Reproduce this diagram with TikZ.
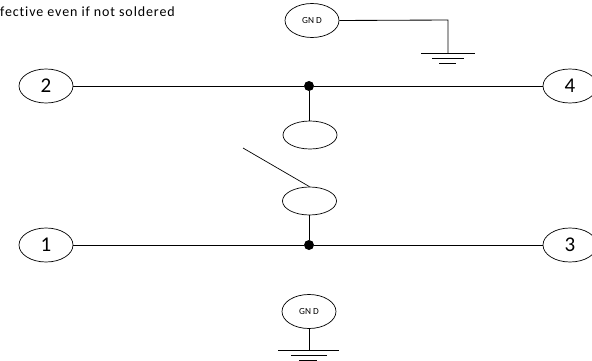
\documentclass[tikz,border=0pt]{standalone}
\usepackage{fontspec}
\setmainfont[Ligatures=CommonOff]{Carlito}
\usetikzlibrary{shapes.geometric}
\tikzset{
  x=1pt,y=-1pt,
  wire/.style={draw=black,line width=0.85pt},
  thin wire/.style={draw=black,line width=0.7pt},
  pin/.style={ellipse,draw=black,line width=0.7pt,fill=white,inner sep=0pt,minimum width=54pt,minimum height=34pt,font=\fontsize{21}{21}\selectfont},
  gndpin/.style={pin,font=\fontsize{9.3}{9.3}\selectfont},
  blank/.style={ellipse,draw=black,line width=0.7pt,fill=white,inner sep=0pt,minimum width=54pt,minimum height=28pt},
  junction/.style={circle,fill=black,inner sep=0pt,minimum size=10pt},
  note/.style={anchor=base west,inner sep=0pt,font=\fontsize{14}{16}\selectfont\addfontfeature{LetterSpace=6.3}}
}
\begin{document}
\begin{tikzpicture}
\useasboundingbox (0,0) rectangle (592,361);
\clip (0,0) rectangle (592,361);
\node[note] (txt) at (0,16.5) {fective even if not soldered};
\coordinate (g1a) at (421,53); \coordinate (g1b) at (475,53);
\coordinate (g1c) at (432,58.5); \coordinate (g1d) at (464,58.5);
\coordinate (g1e) at (439,63.5); \coordinate (g1f) at (456,63.5);
\coordinate (g1m) at (448,53); \coordinate (g1k) at (448,20);
\coordinate (g2a) at (278,350); \coordinate (g2b) at (339,350);
\coordinate (g2c) at (291,355.5); \coordinate (g2d) at (327,355.5);
\coordinate (g2e) at (299,360.3); \coordinate (g2f) at (317,360.3);
\coordinate (g2m) at (309,350);
\coordinate (sw) at (243,148);
\node[pin] (p2) at (46,86) {2};
\node[pin] (p4) at (570,86) {4};
\node[pin] (p1) at (46,245) {1};
\node[pin] (p3) at (570,245) {3};
\node[gndpin] (gt) at (312,20.5) {GN D};
\node[gndpin] (gb) at (309,311.5) {GN D};
\node[blank] (e1) at (310,135) {};
\node[blank] (e2) at (309.5,201) {};
\node[junction] (j1) at (309,86) {};
\node[junction] (j2) at (309,245) {};
\draw[wire] (p2) -- (j1);
\draw[wire] (j1) -- (p4);
\draw[wire] (p1) -- (j2);
\draw[wire] (j2) -- (p3);
\draw[wire] (j1) -- (j1 |- e1.north);
\draw[wire] (j2) -- (j2 |- e2.south);
\draw[thin wire] (sw) -- (e2.north);
\draw[wire] (gt.east) -- (g1k) -- (g1m);
\draw[wire] (g1a) -- (g1b);
\draw[wire] (g1c) -- (g1d);
\draw[wire] (g1e) -- (g1f);
\draw[wire] (gb.south) -- (g2m);
\draw[wire] (g2a) -- (g2b);
\draw[wire] (g2c) -- (g2d);
\draw[wire] (g2e) -- (g2f);
\end{tikzpicture}
\end{document}
